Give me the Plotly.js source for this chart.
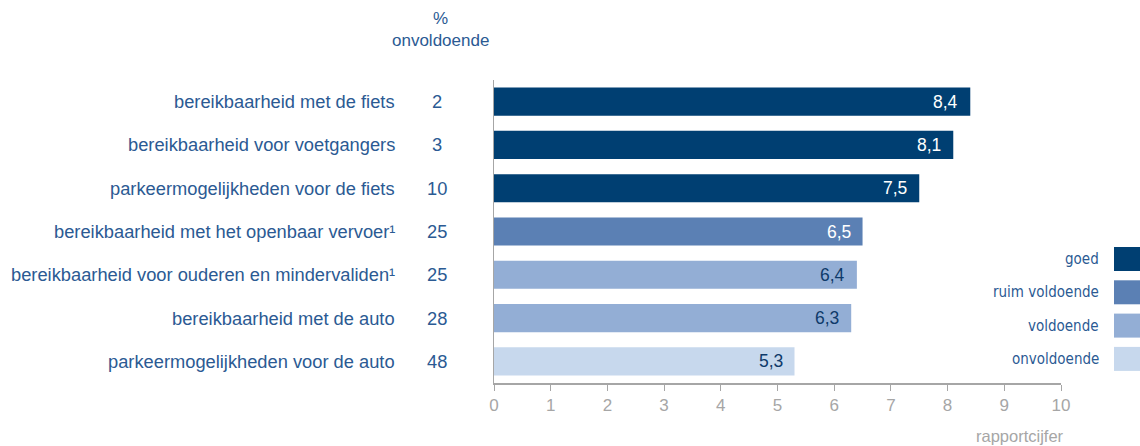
<!DOCTYPE html>
<html>
<head>
<meta charset="utf-8">
<script src="https://cdn.plot.ly/plotly-3.0.1.min.js"></script>
<style>html,body{margin:0;padding:0;background:#fff;}#chart{width:1140px;height:446px;}</style>
</head>
<body>
<div id="chart"></div>
<script>
// Data
var categories = [
  "bereikbaarheid met de fiets",
  "bereikbaarheid voor voetgangers",
  "parkeermogelijkheden voor de fiets",
  "bereikbaarheid met het openbaar vervoer\u00b9",
  "bereikbaarheid voor ouderen en mindervaliden\u00b9",
  "bereikbaarheid met de auto",
  "parkeermogelijkheden voor de auto"
];
var scores = [8.4, 8.1, 7.5, 6.5, 6.4, 6.3, 5.3];
var pctOnvoldoende = [2, 3, 10, 25, 25, 28, 48];
var classes = ["goed", "goed", "goed", "ruim voldoende", "voldoende", "voldoende", "onvoldoende"];
var legendLabels = ["goed", "ruim voldoende", "voldoende", "onvoldoende"];
var xTicks = [0, 1, 2, 3, 4, 5, 6, 7, 8, 9, 10];

// Styles
var classColor = {"goed": "#003f72", "ruim voldoende": "#5b80b4", "voldoende": "#93aed5", "onvoldoende": "#c7d8ed"};
var classText = {"goed": "#ffffff", "ruim voldoende": "#ffffff", "voldoende": "#0e3a6a", "onvoldoende": "#0e3a6a"};
var labelColor = "#2b5a93";
var font = "'Liberation Sans', Arial, sans-serif";

function fmt(v) { return v.toFixed(1).replace(".", ","); }

var trace = {
  type: "bar",
  orientation: "h",
  x: scores,
  y: categories,
  marker: {color: classes.map(function (c) { return classColor[c]; })},
  width: 0.65,
  hoverinfo: "skip",
  showlegend: false
};

var annotations = [];
categories.forEach(function (cat, i) {
  annotations.push({xref: "paper", yref: "y", x: -0.1715, y: cat, xanchor: "right", yanchor: "middle",
    text: cat, showarrow: false, font: {family: font, size: 18.3, color: labelColor}});
  annotations.push({xref: "paper", yref: "y", x: -0.1005, y: cat, xanchor: "center", yanchor: "middle",
    text: String(pctOnvoldoende[i]), showarrow: false, font: {family: font, size: 18.3, color: labelColor}});
  annotations.push({xref: "x", yref: "y", x: scores[i], y: cat, xanchor: "right", yanchor: "middle", xshift: -10,
    text: fmt(scores[i]), showarrow: false, font: {family: font, size: 17.5, color: classText[classes[i]]}});
});
annotations.push({xref: "paper", yref: "paper", x: -0.095, y: 1.0, yshift: 62, xanchor: "center", yanchor: "middle",
  text: "%", showarrow: false, font: {family: font, size: 17, color: labelColor}});
annotations.push({xref: "paper", yref: "paper", x: -0.095, y: 1.0, yshift: 40, xanchor: "center", yanchor: "middle",
  text: "onvoldoende", showarrow: false, font: {family: font, size: 17, color: labelColor}});
annotations.push({xref: "paper", yref: "paper", x: 1.009, y: 0, yshift: -53, xanchor: "right", yanchor: "middle",
  text: "rapportcijfer", showarrow: false, font: {family: font, size: 16.5, color: "#a6a6a6"}});

var shapes = [];
var legendTop = 247, step = 33.3, swH = 24;
legendLabels.forEach(function (lab, i) {
  var y0 = legendTop + i * step;
  // paper y from pixel: plot top 80, height 303
  var py0 = 1 - (y0 - 80) / 303, py1 = 1 - (y0 + swH - 80) / 303;
  shapes.push({type: "rect", xref: "paper", yref: "paper", x0: (1114 - 494) / 567, x1: (1141 - 494) / 567,
    y0: py1, y1: py0, fillcolor: classColor[lab], line: {width: 0}});
  annotations.push({xref: "paper", yref: "paper", x: (1101 - 494) / 567, y: (py0 + py1) / 2, xanchor: "right", yanchor: "middle",
    text: lab, showarrow: false, font: {family: "'Liberation Sans Narrow', 'DejaVu Sans Condensed', sans-serif", size: 15, color: labelColor}});
});

var layout = {
  width: 1140, height: 446,
  margin: {l: 494, r: 79, t: 80, b: 63},
  paper_bgcolor: "#ffffff", plot_bgcolor: "#ffffff",
  xaxis: {range: [0, 10], tickvals: xTicks, ticktext: xTicks.map(String), showgrid: false, zeroline: false,
    showline: true, linecolor: "#a6a6a6", linewidth: 1.5, ticks: "outside", ticklen: 6, tickcolor: "#a6a6a6",
    tickfont: {family: font, size: 17, color: "#a6a6a6"}, fixedrange: true},
  yaxis: {type: "category", autorange: "reversed", showticklabels: false, showgrid: false, zeroline: false,
    showline: true, linecolor: "#a6a6a6", linewidth: 1.5, ticks: "", fixedrange: true},
  bargap: 0.35,
  annotations: annotations,
  shapes: shapes
};

Plotly.newPlot("chart", [trace], layout, {staticPlot: true, displayModeBar: false});
</script>
</body>
</html>
